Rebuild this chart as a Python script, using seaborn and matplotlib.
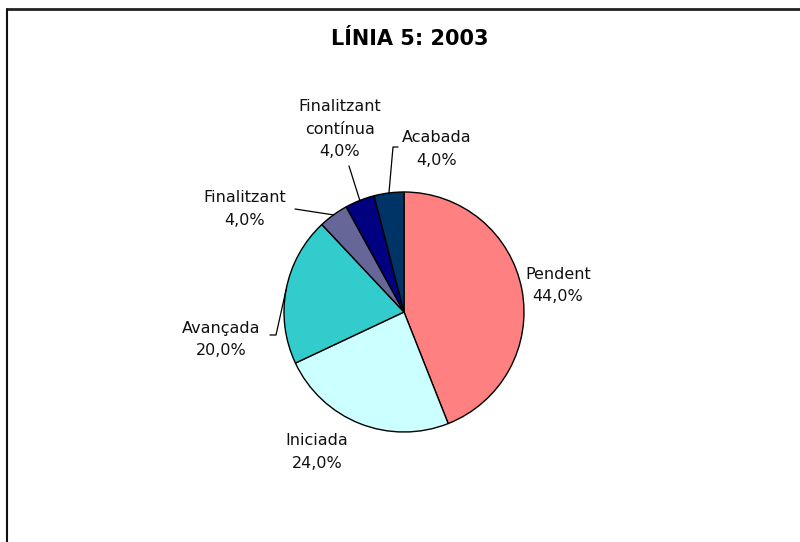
import matplotlib
matplotlib.use("Agg")
import matplotlib.pyplot as plt
import seaborn as sns
import numpy as np

# --- data ---
categories = ["Pendent", "Iniciada", "Avançada", "Finalitzant",
              "Finalitzant\ncontínua", "Acabada"]
counts = [11, 6, 5, 1, 1, 1]
colors = ["#FF8080", "#CCFFFF", "#33CCCC", "#666699", "#000080", "#003366"]
title = "LÍNIA 5: 2003"

sns.set_theme(style="white")
plt.rcParams['font.family'] = ['DejaVu Sans']

W, H = 800, 542
fig = plt.figure(figsize=(W / 100, H / 100), dpi=100)
ax = fig.add_axes([0, 0, 1, 1])


def fy(y):
    # pixel row measured from the top -> data y
    return H - y


# pie placed in pixel space
cx, cy, r = 404, 312, 120
wedges, _ = ax.pie(counts, colors=colors, startangle=90, counterclock=False,
                   center=(cx, fy(cy)), radius=r,
                   wedgeprops=dict(edgecolor="black", linewidth=1))
ax.set_xlim(0, W)
ax.set_ylim(0, H)
ax.set_aspect("auto")
ax.axis("off")

total = sum(counts)
labels = [f"{c}\n{v / total * 100:.1f}%".replace(".", ",")
          for c, v in zip(categories, counts)]

# label text centres (pixels from top) and leader start points
label_pos = [(558, 285.5), (317, 452), (221, 339.5), (245, 209),
             (340, 129), (437, 149)]
leader_start = [None, None, [(270, 335), (276, 335)], [(295, 209)],
                [(349, 166)], [(398, 147), (393, 147)]]

for w, lab, pos, lead in zip(wedges, labels, label_pos, leader_start):
    ax.text(pos[0], fy(pos[1]), lab, ha="center", va="center", fontsize=11.5,
            color="#111111", linespacing=1.6)
    if lead:
        mid = np.deg2rad((w.theta1 + w.theta2) / 2)
        ex = cx + r * np.cos(mid)
        ey = fy(cy) + r * np.sin(mid)
        xs = [p[0] for p in lead] + [ex]
        ys = [fy(p[1]) for p in lead] + [ey]
        ax.plot(xs, ys, color="black", linewidth=0.9)

ax.text(410, fy(39), title, ha="center", va="center", fontsize=15,
        fontweight="bold", color="black")

# frame lines (top and left)
ax.plot([7, W + 5], [fy(8.5), fy(8.5)], color="#222222", linewidth=2, clip_on=False)
ax.plot([7, 7], [fy(8.5), -5], color="#111111", linewidth=1.5, clip_on=False)

fig.savefig("out.png", dpi=100, facecolor="white")
